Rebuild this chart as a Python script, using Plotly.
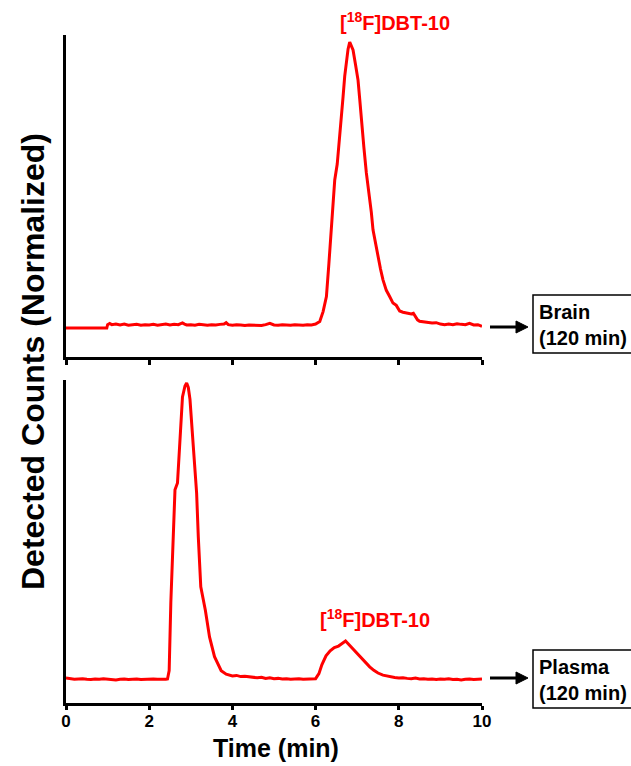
import plotly.graph_objects as go

# ---------------- data ----------------
brain_time = [0, 0.98, 1.0, 1.05, 1.1, 1.2, 1.3, 1.4, 1.5, 1.6, 1.7, 1.8, 1.9, 2.0, 2.1,
              2.2, 2.3, 2.4, 2.5, 2.6, 2.7, 2.8, 2.85, 2.9, 3.0, 3.1, 3.2, 3.3, 3.4,
              3.5, 3.6, 3.7, 3.8, 3.85, 3.9, 4.0, 4.1, 4.2, 4.3, 4.4, 4.5, 4.6, 4.7,
              4.8, 4.9, 5.0, 5.1, 5.2, 5.3, 5.4, 5.5, 5.6, 5.7, 5.8, 5.9, 6.0, 6.1,
              6.18, 6.26, 6.32, 6.38, 6.46, 6.52, 6.56, 6.62, 6.66, 6.70, 6.74, 6.78,
              6.82, 6.86, 6.90, 6.96, 7.02, 7.06, 7.10, 7.16, 7.22, 7.30, 7.34, 7.38,
              7.44, 7.50, 7.56, 7.62, 7.70, 7.78, 7.86, 7.94, 8.02, 8.1, 8.2, 8.3,
              8.35, 8.40, 8.45, 8.5, 8.6, 8.7, 8.8, 8.9, 9.0, 9.1, 9.2, 9.3, 9.4, 9.5,
              9.6, 9.7, 9.8, 9.9, 10.0]
brain_counts = [-0.008, -0.008, 0.004, 0.008, 0.004, 0.006, 0.003, 0.006, 0.002, 0.004,
                0.005, 0.002, 0.004, 0.003, 0.005, 0.002, 0.004, 0.006, 0.003, 0.005,
                0.004, 0.010, 0.006, 0.003, 0.004, 0.002, 0.005, 0.003, 0.002, 0.004,
                0.003, 0.005, 0.006, 0.011, 0.004, 0.002, 0.004, 0.003, 0.001, 0.003,
                0.002, 0.003, 0.001, 0.004, 0.009, 0.003, 0.002, 0.004, 0.003, 0.002,
                0.004, 0.003, 0.002, 0.004, 0.003, 0.006, 0.015, 0.050, 0.103, 0.220,
                0.338, 0.514, 0.570, 0.631, 0.720, 0.807, 0.880, 0.937, 0.975, 1.000,
                0.985, 0.972, 0.920, 0.866, 0.800, 0.725, 0.630, 0.539, 0.455, 0.400,
                0.338, 0.290, 0.244, 0.200, 0.162, 0.125, 0.103, 0.080, 0.072, 0.052,
                0.048, 0.044, 0.042, 0.044, 0.030, 0.021, 0.016, 0.014, 0.012, 0.010,
                0.011, 0.006, 0.004, 0.006, 0.004, 0.007, 0.005, 0.004, 0.009, 0.003,
                0.004, -0.002]

plasma_time = [0, 0.1, 0.2, 0.3, 0.4, 0.5, 0.6, 0.7, 0.8, 0.9, 1.0, 1.1, 1.2, 1.3, 1.4,
               1.5, 1.6, 1.7, 1.8, 1.9, 2.0, 2.1, 2.2, 2.3, 2.4, 2.44, 2.48, 2.52, 2.56,
               2.62, 2.68, 2.74, 2.80, 2.86, 2.90, 2.94, 2.98, 3.06, 3.14, 3.18, 3.24,
               3.35, 3.45, 3.57, 3.73, 3.85, 3.93, 4.0, 4.1, 4.2, 4.3, 4.41, 4.5, 4.6,
               4.7, 4.8, 4.9, 5.0, 5.1, 5.2, 5.3, 5.4, 5.5, 5.6, 5.7, 5.8, 5.9, 6.0,
               6.08, 6.15, 6.25, 6.35, 6.45, 6.55, 6.62, 6.68, 6.72, 6.76, 6.82, 6.90,
               7.0, 7.1, 7.2, 7.3, 7.4, 7.5, 7.62, 7.7, 7.8, 7.9, 8.0, 8.1, 8.2, 8.3,
               8.4, 8.5, 8.6, 8.7, 8.8, 8.9, 9.0, 9.1, 9.2, 9.3, 9.4, 9.5, 9.6, 9.7,
               9.8, 9.9, 10.0]
plasma_counts = [0.005, 0.003, 0.001, 0.002, 0.003, 0.001, 0.000, 0.002, 0.001, 0.003,
                 0.001, 0.000, -0.001, 0.001, 0.002, 0.000, 0.001, 0.002, 0.000, 0.001,
                 0.000, 0.002, 0.001, 0.000, 0.001, 0.002, 0.030, 0.260, 0.430, 0.640,
                 0.663, 0.820, 0.953, 0.990, 1.000, 0.985, 0.945, 0.786, 0.629, 0.482,
                 0.313, 0.234, 0.144, 0.077, 0.030, 0.018, 0.015, 0.012, 0.014, 0.010,
                 0.011, 0.009, 0.007, 0.006, 0.008, 0.004, 0.006, 0.003, 0.004, 0.002,
                 0.003, 0.001, 0.002, 0.003, 0.001, 0.002, 0.001, 0.003, 0.020, 0.050,
                 0.080, 0.097, 0.108, 0.113, 0.120, 0.125, 0.130, 0.124, 0.115, 0.105,
                 0.088, 0.072, 0.058, 0.043, 0.031, 0.022, 0.015, 0.012, 0.009, 0.007,
                 0.005, 0.006, 0.004, 0.003, 0.005, 0.002, 0.003, 0.001, 0.002, 0.000,
                 0.002, 0.001, 0.003, 0.000, 0.001, -0.001, 0.001, 0.002, 0.000, 0.001,
                 0.002]

tick_values = [0, 2, 4, 6, 8, 10]
tick_labels = ["0", "2", "4", "6", "8", "10"]

peak_label = "<b>[<sup>18</sup>F]DBT-10</b>"
brain_box = "<b>Brain</b><br><b>(120 min)</b>"
plasma_box = "<b>Plasma</b><br><b>(120 min)</b>"
x_title = "<b>Time (min)</b>"
y_title = "<b>Detected Counts (Normalized)</b>"

# ---------------- geometry helpers (pixel -> paper) ----------------
W, H = 631, 766
L, R, T, B = 66, 149, 35, 63
PW, PH = W - L - R, H - T - B


def px(x):
    return (x - L) / PW


def py(y):
    return (H - B - y) / PH


FONT = "Liberation Sans, Arial, sans-serif"
RED = "#ff0000"

fig = go.Figure()
fig.add_trace(go.Scatter(x=brain_time, y=brain_counts, mode="lines",
                         line=dict(color=RED, width=3), xaxis="x", yaxis="y",
                         showlegend=False, hoverinfo="skip"))
fig.add_trace(go.Scatter(x=plasma_time, y=plasma_counts, mode="lines",
                         line=dict(color=RED, width=3), xaxis="x2", yaxis="y2",
                         showlegend=False, hoverinfo="skip"))

axis_common = dict(showgrid=False, zeroline=False, showline=True,
                   linecolor="black", linewidth=3)

fig.update_layout(
    width=W, height=H,
    margin=dict(l=L, r=R, t=T, b=B, pad=0),
    paper_bgcolor="white", plot_bgcolor="white",
    font=dict(family=FONT, color="black"),
    xaxis=dict(**axis_common, domain=[0, 1], anchor="y", range=[0, 10],
               tickmode="array", tickvals=tick_values, ticktext=tick_labels,
               ticks="outside", ticklen=5, tickwidth=2.5, tickcolor="black",
               showticklabels=False),
    yaxis=dict(**axis_common, domain=[py(357), 1], anchor="x",
               range=[-0.11, 1.025], showticklabels=False, ticks=""),
    xaxis2=dict(**axis_common, domain=[0, 1], anchor="y2", range=[0, 10],
                tickmode="array", tickvals=tick_values, ticktext=tick_labels,
                ticks="outside", ticklen=4, tickwidth=2.5, tickcolor="black",
                ticklabelstandoff=-3,
                tickfont=dict(family=FONT, size=17, color="black", weight="bold")),
    yaxis2=dict(**axis_common, domain=[0, py(380)], anchor="x2",
                range=[-0.079, 1.01], showticklabels=False, ticks=""),
)

annotations = [
    dict(text=peak_label, x=px(395), y=py(22), xref="paper", yref="paper",
         showarrow=False, xanchor="center", yanchor="middle",
         font=dict(family=FONT, size=20, color=RED)),
    dict(text=peak_label, x=px(375), y=py(618), xref="paper", yref="paper",
         showarrow=False, xanchor="center", yanchor="middle",
         font=dict(family=FONT, size=20, color=RED)),
    dict(text=x_title, x=px(276), y=py(748), xref="paper", yref="paper",
         showarrow=False, xanchor="center", yanchor="middle",
         font=dict(family=FONT, size=25, color="black")),
    dict(text=y_title, x=px(33), y=py(362), xref="paper", yref="paper",
         showarrow=False, xanchor="center", yanchor="middle", textangle=-90,
         font=dict(family=FONT, size=32, color="black")),
    dict(text=brain_box, x=px(537), y=py(325), xref="paper", yref="paper",
         showarrow=False, xanchor="left", yanchor="middle", align="left",
         font=dict(family=FONT, size=20, color="black")),
    dict(text=plasma_box, x=px(537), y=py(680), xref="paper", yref="paper",
         showarrow=False, xanchor="left", yanchor="middle", align="left",
         font=dict(family=FONT, size=20, color="black")),
]
fig.update_layout(annotations=annotations)


def arrow_shapes(yc):
    return [
        dict(type="line", xref="paper", yref="paper", x0=px(490), x1=px(518),
             y0=py(yc), y1=py(yc), line=dict(color="black", width=3)),
        dict(type="path", xref="paper", yref="paper",
             path=f"M {px(516)} {py(yc - 6)} L {px(528)} {py(yc)} L {px(516)} {py(yc + 6)} Z",
             fillcolor="black", line=dict(color="black", width=1)),
    ]


shapes = [
    dict(type="rect", xref="paper", yref="paper", x0=px(533), x1=px(645),
         y0=py(353), y1=py(295), line=dict(color="black", width=1.5)),
    dict(type="rect", xref="paper", yref="paper", x0=px(533), x1=px(645),
         y0=py(708), y1=py(650), line=dict(color="black", width=1.5)),
]
shapes += arrow_shapes(327)
shapes += arrow_shapes(678)
fig.update_layout(shapes=shapes)

fig.write_html("out.html")
